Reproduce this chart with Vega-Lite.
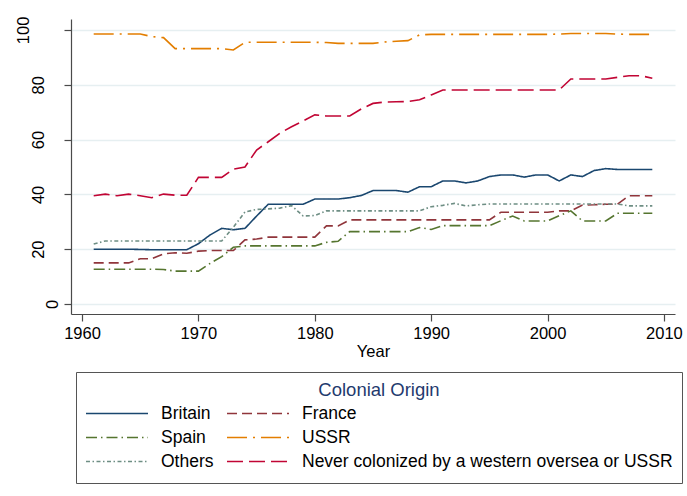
{
  "$schema": "https://vega.github.io/schema/vega-lite/v6.json",
  "width": 604,
  "height": 295,
  "autosize": {"type": "none"},
  "padding": {"left": 71, "top": 19, "right": 12, "bottom": 182},
  "background": "white",
  "datasets": {
    "series": [
      {"year":1961,"origin":"Britain","share":20},{"year":1962,"origin":"Britain","share":20},{"year":1963,"origin":"Britain","share":20},{"year":1964,"origin":"Britain","share":20},{"year":1965,"origin":"Britain","share":19.9},{"year":1966,"origin":"Britain","share":19.8},{"year":1967,"origin":"Britain","share":19.8},{"year":1968,"origin":"Britain","share":19.8},{"year":1969,"origin":"Britain","share":19.8},{"year":1970,"origin":"Britain","share":22},{"year":1971,"origin":"Britain","share":25.2},{"year":1972,"origin":"Britain","share":27.6},{"year":1973,"origin":"Britain","share":27.1},{"year":1974,"origin":"Britain","share":27.6},{"year":1975,"origin":"Britain","share":32.1},{"year":1976,"origin":"Britain","share":36.4},{"year":1977,"origin":"Britain","share":36.4},{"year":1978,"origin":"Britain","share":36.4},{"year":1979,"origin":"Britain","share":36.4},{"year":1980,"origin":"Britain","share":38.3},{"year":1981,"origin":"Britain","share":38.3},{"year":1982,"origin":"Britain","share":38.3},{"year":1983,"origin":"Britain","share":38.8},{"year":1984,"origin":"Britain","share":39.6},{"year":1985,"origin":"Britain","share":41.4},{"year":1986,"origin":"Britain","share":41.4},{"year":1987,"origin":"Britain","share":41.4},{"year":1988,"origin":"Britain","share":40.8},{"year":1989,"origin":"Britain","share":42.8},{"year":1990,"origin":"Britain","share":42.8},{"year":1991,"origin":"Britain","share":44.9},{"year":1992,"origin":"Britain","share":44.9},{"year":1993,"origin":"Britain","share":44.2},{"year":1994,"origin":"Britain","share":44.9},{"year":1995,"origin":"Britain","share":46.5},{"year":1996,"origin":"Britain","share":47.1},{"year":1997,"origin":"Britain","share":47.1},{"year":1998,"origin":"Britain","share":46.3},{"year":1999,"origin":"Britain","share":47.1},{"year":2000,"origin":"Britain","share":47.1},{"year":2001,"origin":"Britain","share":44.9},{"year":2002,"origin":"Britain","share":47.1},{"year":2003,"origin":"Britain","share":46.5},{"year":2004,"origin":"Britain","share":48.7},{"year":2005,"origin":"Britain","share":49.4},{"year":2006,"origin":"Britain","share":49.1},{"year":2007,"origin":"Britain","share":49.1},{"year":2008,"origin":"Britain","share":49.1},{"year":2009,"origin":"Britain","share":49.1},
      {"year":1961,"origin":"France","share":15},{"year":1962,"origin":"France","share":15},{"year":1963,"origin":"France","share":15},{"year":1964,"origin":"France","share":15},{"year":1965,"origin":"France","share":16.5},{"year":1966,"origin":"France","share":16.5},{"year":1967,"origin":"France","share":18.3},{"year":1968,"origin":"France","share":18.7},{"year":1969,"origin":"France","share":18.5},{"year":1970,"origin":"France","share":19.3},{"year":1971,"origin":"France","share":19.5},{"year":1972,"origin":"France","share":19.5},{"year":1973,"origin":"France","share":19.5},{"year":1974,"origin":"France","share":23.4},{"year":1975,"origin":"France","share":23.7},{"year":1976,"origin":"France","share":24.4},{"year":1977,"origin":"France","share":24.4},{"year":1978,"origin":"France","share":24.4},{"year":1979,"origin":"France","share":24.4},{"year":1980,"origin":"France","share":24.4},{"year":1981,"origin":"France","share":28.5},{"year":1982,"origin":"France","share":28.5},{"year":1983,"origin":"France","share":30.7},{"year":1984,"origin":"France","share":30.7},{"year":1985,"origin":"France","share":30.7},{"year":1986,"origin":"France","share":30.7},{"year":1987,"origin":"France","share":30.7},{"year":1988,"origin":"France","share":30.7},{"year":1989,"origin":"France","share":30.7},{"year":1990,"origin":"France","share":30.7},{"year":1991,"origin":"France","share":30.7},{"year":1992,"origin":"France","share":30.7},{"year":1993,"origin":"France","share":30.7},{"year":1994,"origin":"France","share":30.7},{"year":1995,"origin":"France","share":30.7},{"year":1996,"origin":"France","share":33.5},{"year":1997,"origin":"France","share":33.5},{"year":1998,"origin":"France","share":33.5},{"year":1999,"origin":"France","share":33.5},{"year":2000,"origin":"France","share":33.5},{"year":2001,"origin":"France","share":34},{"year":2002,"origin":"France","share":34},{"year":2003,"origin":"France","share":36.1},{"year":2004,"origin":"France","share":36.2},{"year":2005,"origin":"France","share":36.4},{"year":2006,"origin":"France","share":36.4},{"year":2007,"origin":"France","share":39.5},{"year":2008,"origin":"France","share":39.5},{"year":2009,"origin":"France","share":39.5},
      {"year":1961,"origin":"Spain","share":12.7},{"year":1962,"origin":"Spain","share":12.7},{"year":1963,"origin":"Spain","share":12.7},{"year":1964,"origin":"Spain","share":12.7},{"year":1965,"origin":"Spain","share":12.7},{"year":1966,"origin":"Spain","share":12.7},{"year":1967,"origin":"Spain","share":12.6},{"year":1968,"origin":"Spain","share":12},{"year":1969,"origin":"Spain","share":12},{"year":1970,"origin":"Spain","share":12},{"year":1971,"origin":"Spain","share":14.8},{"year":1972,"origin":"Spain","share":17.3},{"year":1973,"origin":"Spain","share":20.7},{"year":1974,"origin":"Spain","share":21.2},{"year":1975,"origin":"Spain","share":21.2},{"year":1976,"origin":"Spain","share":21.2},{"year":1977,"origin":"Spain","share":21.2},{"year":1978,"origin":"Spain","share":21.2},{"year":1979,"origin":"Spain","share":21.2},{"year":1980,"origin":"Spain","share":21.2},{"year":1981,"origin":"Spain","share":22.5},{"year":1982,"origin":"Spain","share":22.9},{"year":1983,"origin":"Spain","share":26.4},{"year":1984,"origin":"Spain","share":26.4},{"year":1985,"origin":"Spain","share":26.4},{"year":1986,"origin":"Spain","share":26.4},{"year":1987,"origin":"Spain","share":26.4},{"year":1988,"origin":"Spain","share":26.4},{"year":1989,"origin":"Spain","share":27.9},{"year":1990,"origin":"Spain","share":27.2},{"year":1991,"origin":"Spain","share":28.6},{"year":1992,"origin":"Spain","share":28.6},{"year":1993,"origin":"Spain","share":28.6},{"year":1994,"origin":"Spain","share":28.6},{"year":1995,"origin":"Spain","share":28.6},{"year":1996,"origin":"Spain","share":30.4},{"year":1997,"origin":"Spain","share":32.1},{"year":1998,"origin":"Spain","share":30.3},{"year":1999,"origin":"Spain","share":30.3},{"year":2000,"origin":"Spain","share":30.3},{"year":2001,"origin":"Spain","share":32.2},{"year":2002,"origin":"Spain","share":34},{"year":2003,"origin":"Spain","share":30.3},{"year":2004,"origin":"Spain","share":30.3},{"year":2005,"origin":"Spain","share":30.3},{"year":2006,"origin":"Spain","share":33.1},{"year":2007,"origin":"Spain","share":33.1},{"year":2008,"origin":"Spain","share":33.1},{"year":2009,"origin":"Spain","share":33.1},
      {"year":1961,"origin":"USSR","share":98.5},{"year":1962,"origin":"USSR","share":98.5},{"year":1963,"origin":"USSR","share":98.5},{"year":1964,"origin":"USSR","share":98.5},{"year":1965,"origin":"USSR","share":98.5},{"year":1966,"origin":"USSR","share":97.6},{"year":1967,"origin":"USSR","share":97.2},{"year":1968,"origin":"USSR","share":93.2},{"year":1969,"origin":"USSR","share":93.2},{"year":1970,"origin":"USSR","share":93.2},{"year":1971,"origin":"USSR","share":93.2},{"year":1972,"origin":"USSR","share":93.2},{"year":1973,"origin":"USSR","share":92.7},{"year":1974,"origin":"USSR","share":95.5},{"year":1975,"origin":"USSR","share":95.5},{"year":1976,"origin":"USSR","share":95.5},{"year":1977,"origin":"USSR","share":95.5},{"year":1978,"origin":"USSR","share":95.5},{"year":1979,"origin":"USSR","share":95.5},{"year":1980,"origin":"USSR","share":95.5},{"year":1981,"origin":"USSR","share":95.4},{"year":1982,"origin":"USSR","share":95.1},{"year":1983,"origin":"USSR","share":95.1},{"year":1984,"origin":"USSR","share":95.1},{"year":1985,"origin":"USSR","share":95.1},{"year":1986,"origin":"USSR","share":95.6},{"year":1987,"origin":"USSR","share":95.9},{"year":1988,"origin":"USSR","share":96.1},{"year":1989,"origin":"USSR","share":98.2},{"year":1990,"origin":"USSR","share":98.4},{"year":1991,"origin":"USSR","share":98.4},{"year":1992,"origin":"USSR","share":98.4},{"year":1993,"origin":"USSR","share":98.4},{"year":1994,"origin":"USSR","share":98.4},{"year":1995,"origin":"USSR","share":98.4},{"year":1996,"origin":"USSR","share":98.4},{"year":1997,"origin":"USSR","share":98.4},{"year":1998,"origin":"USSR","share":98.4},{"year":1999,"origin":"USSR","share":98.4},{"year":2000,"origin":"USSR","share":98.4},{"year":2001,"origin":"USSR","share":98.5},{"year":2002,"origin":"USSR","share":98.7},{"year":2003,"origin":"USSR","share":98.7},{"year":2004,"origin":"USSR","share":98.7},{"year":2005,"origin":"USSR","share":98.7},{"year":2006,"origin":"USSR","share":98.5},{"year":2007,"origin":"USSR","share":98.4},{"year":2008,"origin":"USSR","share":98.4},{"year":2009,"origin":"USSR","share":98.4},
      {"year":1961,"origin":"Others","share":21.9},{"year":1962,"origin":"Others","share":23},{"year":1963,"origin":"Others","share":23},{"year":1964,"origin":"Others","share":23},{"year":1965,"origin":"Others","share":23},{"year":1966,"origin":"Others","share":23},{"year":1967,"origin":"Others","share":23},{"year":1968,"origin":"Others","share":23},{"year":1969,"origin":"Others","share":23},{"year":1970,"origin":"Others","share":23},{"year":1971,"origin":"Others","share":23},{"year":1972,"origin":"Others","share":23},{"year":1973,"origin":"Others","share":28},{"year":1974,"origin":"Others","share":33.6},{"year":1975,"origin":"Others","share":34.5},{"year":1976,"origin":"Others","share":34.7},{"year":1977,"origin":"Others","share":35},{"year":1978,"origin":"Others","share":35.9},{"year":1979,"origin":"Others","share":32.1},{"year":1980,"origin":"Others","share":32.3},{"year":1981,"origin":"Others","share":34},{"year":1982,"origin":"Others","share":34},{"year":1983,"origin":"Others","share":34},{"year":1984,"origin":"Others","share":34},{"year":1985,"origin":"Others","share":34},{"year":1986,"origin":"Others","share":34},{"year":1987,"origin":"Others","share":34},{"year":1988,"origin":"Others","share":34},{"year":1989,"origin":"Others","share":34},{"year":1990,"origin":"Others","share":35.5},{"year":1991,"origin":"Others","share":36},{"year":1992,"origin":"Others","share":36.7},{"year":1993,"origin":"Others","share":35.8},{"year":1994,"origin":"Others","share":36.2},{"year":1995,"origin":"Others","share":36.5},{"year":1996,"origin":"Others","share":36.5},{"year":1997,"origin":"Others","share":36.5},{"year":1998,"origin":"Others","share":36.5},{"year":1999,"origin":"Others","share":36.5},{"year":2000,"origin":"Others","share":36.5},{"year":2001,"origin":"Others","share":36.5},{"year":2002,"origin":"Others","share":36.5},{"year":2003,"origin":"Others","share":36.5},{"year":2004,"origin":"Others","share":36.5},{"year":2005,"origin":"Others","share":36.5},{"year":2006,"origin":"Others","share":36.5},{"year":2007,"origin":"Others","share":35.8},{"year":2008,"origin":"Others","share":35.8},{"year":2009,"origin":"Others","share":35.8},
      {"year":1961,"origin":"Never colonized by a western oversea or USSR","share":39.5},{"year":1962,"origin":"Never colonized by a western oversea or USSR","share":40.1},{"year":1963,"origin":"Never colonized by a western oversea or USSR","share":39.5},{"year":1964,"origin":"Never colonized by a western oversea or USSR","share":40.1},{"year":1965,"origin":"Never colonized by a western oversea or USSR","share":39.5},{"year":1966,"origin":"Never colonized by a western oversea or USSR","share":38.8},{"year":1967,"origin":"Never colonized by a western oversea or USSR","share":40.1},{"year":1968,"origin":"Never colonized by a western oversea or USSR","share":39.7},{"year":1969,"origin":"Never colonized by a western oversea or USSR","share":39.7},{"year":1970,"origin":"Never colonized by a western oversea or USSR","share":46.2},{"year":1971,"origin":"Never colonized by a western oversea or USSR","share":46.2},{"year":1972,"origin":"Never colonized by a western oversea or USSR","share":46.2},{"year":1973,"origin":"Never colonized by a western oversea or USSR","share":49.2},{"year":1974,"origin":"Never colonized by a western oversea or USSR","share":50},{"year":1975,"origin":"Never colonized by a western oversea or USSR","share":56.2},{"year":1976,"origin":"Never colonized by a western oversea or USSR","share":59.2},{"year":1977,"origin":"Never colonized by a western oversea or USSR","share":62.3},{"year":1978,"origin":"Never colonized by a western oversea or USSR","share":64.7},{"year":1979,"origin":"Never colonized by a western oversea or USSR","share":66.8},{"year":1980,"origin":"Never colonized by a western oversea or USSR","share":69},{"year":1981,"origin":"Never colonized by a western oversea or USSR","share":68.6},{"year":1982,"origin":"Never colonized by a western oversea or USSR","share":68.6},{"year":1983,"origin":"Never colonized by a western oversea or USSR","share":68.6},{"year":1984,"origin":"Never colonized by a western oversea or USSR","share":71.2},{"year":1985,"origin":"Never colonized by a western oversea or USSR","share":73.2},{"year":1986,"origin":"Never colonized by a western oversea or USSR","share":73.7},{"year":1987,"origin":"Never colonized by a western oversea or USSR","share":73.8},{"year":1988,"origin":"Never colonized by a western oversea or USSR","share":73.9},{"year":1989,"origin":"Never colonized by a western oversea or USSR","share":74.5},{"year":1990,"origin":"Never colonized by a western oversea or USSR","share":76.3},{"year":1991,"origin":"Never colonized by a western oversea or USSR","share":78.1},{"year":1992,"origin":"Never colonized by a western oversea or USSR","share":78.1},{"year":1993,"origin":"Never colonized by a western oversea or USSR","share":78.1},{"year":1994,"origin":"Never colonized by a western oversea or USSR","share":78.1},{"year":1995,"origin":"Never colonized by a western oversea or USSR","share":78.1},{"year":1996,"origin":"Never colonized by a western oversea or USSR","share":78.1},{"year":1997,"origin":"Never colonized by a western oversea or USSR","share":78.1},{"year":1998,"origin":"Never colonized by a western oversea or USSR","share":78.1},{"year":1999,"origin":"Never colonized by a western oversea or USSR","share":78.1},{"year":2000,"origin":"Never colonized by a western oversea or USSR","share":78.1},{"year":2001,"origin":"Never colonized by a western oversea or USSR","share":78.1},{"year":2002,"origin":"Never colonized by a western oversea or USSR","share":82.1},{"year":2003,"origin":"Never colonized by a western oversea or USSR","share":82.1},{"year":2004,"origin":"Never colonized by a western oversea or USSR","share":82.1},{"year":2005,"origin":"Never colonized by a western oversea or USSR","share":82.1},{"year":2006,"origin":"Never colonized by a western oversea or USSR","share":82.7},{"year":2007,"origin":"Never colonized by a western oversea or USSR","share":83.3},{"year":2008,"origin":"Never colonized by a western oversea or USSR","share":83.3},{"year":2009,"origin":"Never colonized by a western oversea or USSR","share":82.4}
    ]
  },
  "data": {"name": "series"},
  "mark": {"type": "line", "strokeWidth": 1.6, "interpolate": "linear"},
  "encoding": {
    "x": {
      "field": "year", "type": "quantitative",
      "scale": {"domain": [1959.05, 2010.95], "nice": false, "zero": false},
      "axis": {"values": [1960, 1970, 1980, 1990, 2000, 2010], "format": "d", "title": "Year", "grid": false}
    },
    "y": {
      "field": "share", "type": "quantitative",
      "scale": {"domain": [-3.65, 104], "nice": false, "zero": false},
      "axis": {
        "values": [0, 20, 40, 60, 80, 100], "title": null, "grid": true,
        "labelAngle": -90, "labelAlign": "center", "labelBaseline": "alphabetic",
        "labelPadding": {"condition": [{"test": "datum.value == 0", "value": 7}, {"test": "datum.value == 100", "value": 36}], "value": 21}
      }
    },
    "color": {
      "field": "origin", "type": "nominal", "title": "Colonial Origin",
      "scale": {
        "domain": ["Britain", "Spain", "Others", "France", "USSR", "Never colonized by a western oversea or USSR"],
        "range": ["#1a476f", "#55752f", "#6e8e84", "#90353b", "#e37e00", "#c10534"]
      }
    },
    "strokeDash": {
      "field": "origin", "type": "nominal", "title": "Colonial Origin",
      "scale": {
        "domain": ["Britain", "Spain", "Others", "France", "USSR", "Never colonized by a western oversea or USSR"],
        "range": [[1, 0], [11, 4, 1.5, 4], [4, 2.5, 1.5, 2.5], [10, 5], [20, 6, 2, 6], [16, 6]]
      }
    }
  },
  "config": {
    "view": {"stroke": null},
    "font": "Liberation Sans",
    "axis": {
      "domainColor": "#4a4a4a", "domainWidth": 1.2,
      "tickColor": "#4a4a4a", "tickSize": 7, "tickWidth": 1.2,
      "labelFont": "Liberation Sans", "labelFontSize": 16.5, "labelColor": "#000000",
      "titleFont": "Liberation Sans", "titleFontSize": 16.5, "titleFontWeight": "normal", "titleColor": "#000000",
      "gridColor": "#e6eff1", "gridWidth": 1.5
    },
    "axisX": {"labelPadding": 4, "titlePadding": 2},
    "legend": {
      "orient": "none", "legendX": 5, "legendY": 353,
      "columns": 2, "symbolType": "stroke", "symbolSize": 3844, "symbolStrokeWidth": 1.6,
      "clipHeight": 24, "rowPadding": 0, "columnPadding": 12, "labelOffset": 12,
      "labelFont": "Liberation Sans", "labelFontSize": 17.5, "labelColor": "#000000", "labelLimit": 600,
      "titleFont": "Liberation Sans", "titleFontSize": 18.5, "titleFontWeight": "normal", "titleColor": "#1f3a6e",
      "titleAnchor": "middle", "titlePadding": 2, "titleLimit": 600,
      "padding": 9, "strokeColor": "#555555", "fillColor": "#ffffff"
    }
  }
}
